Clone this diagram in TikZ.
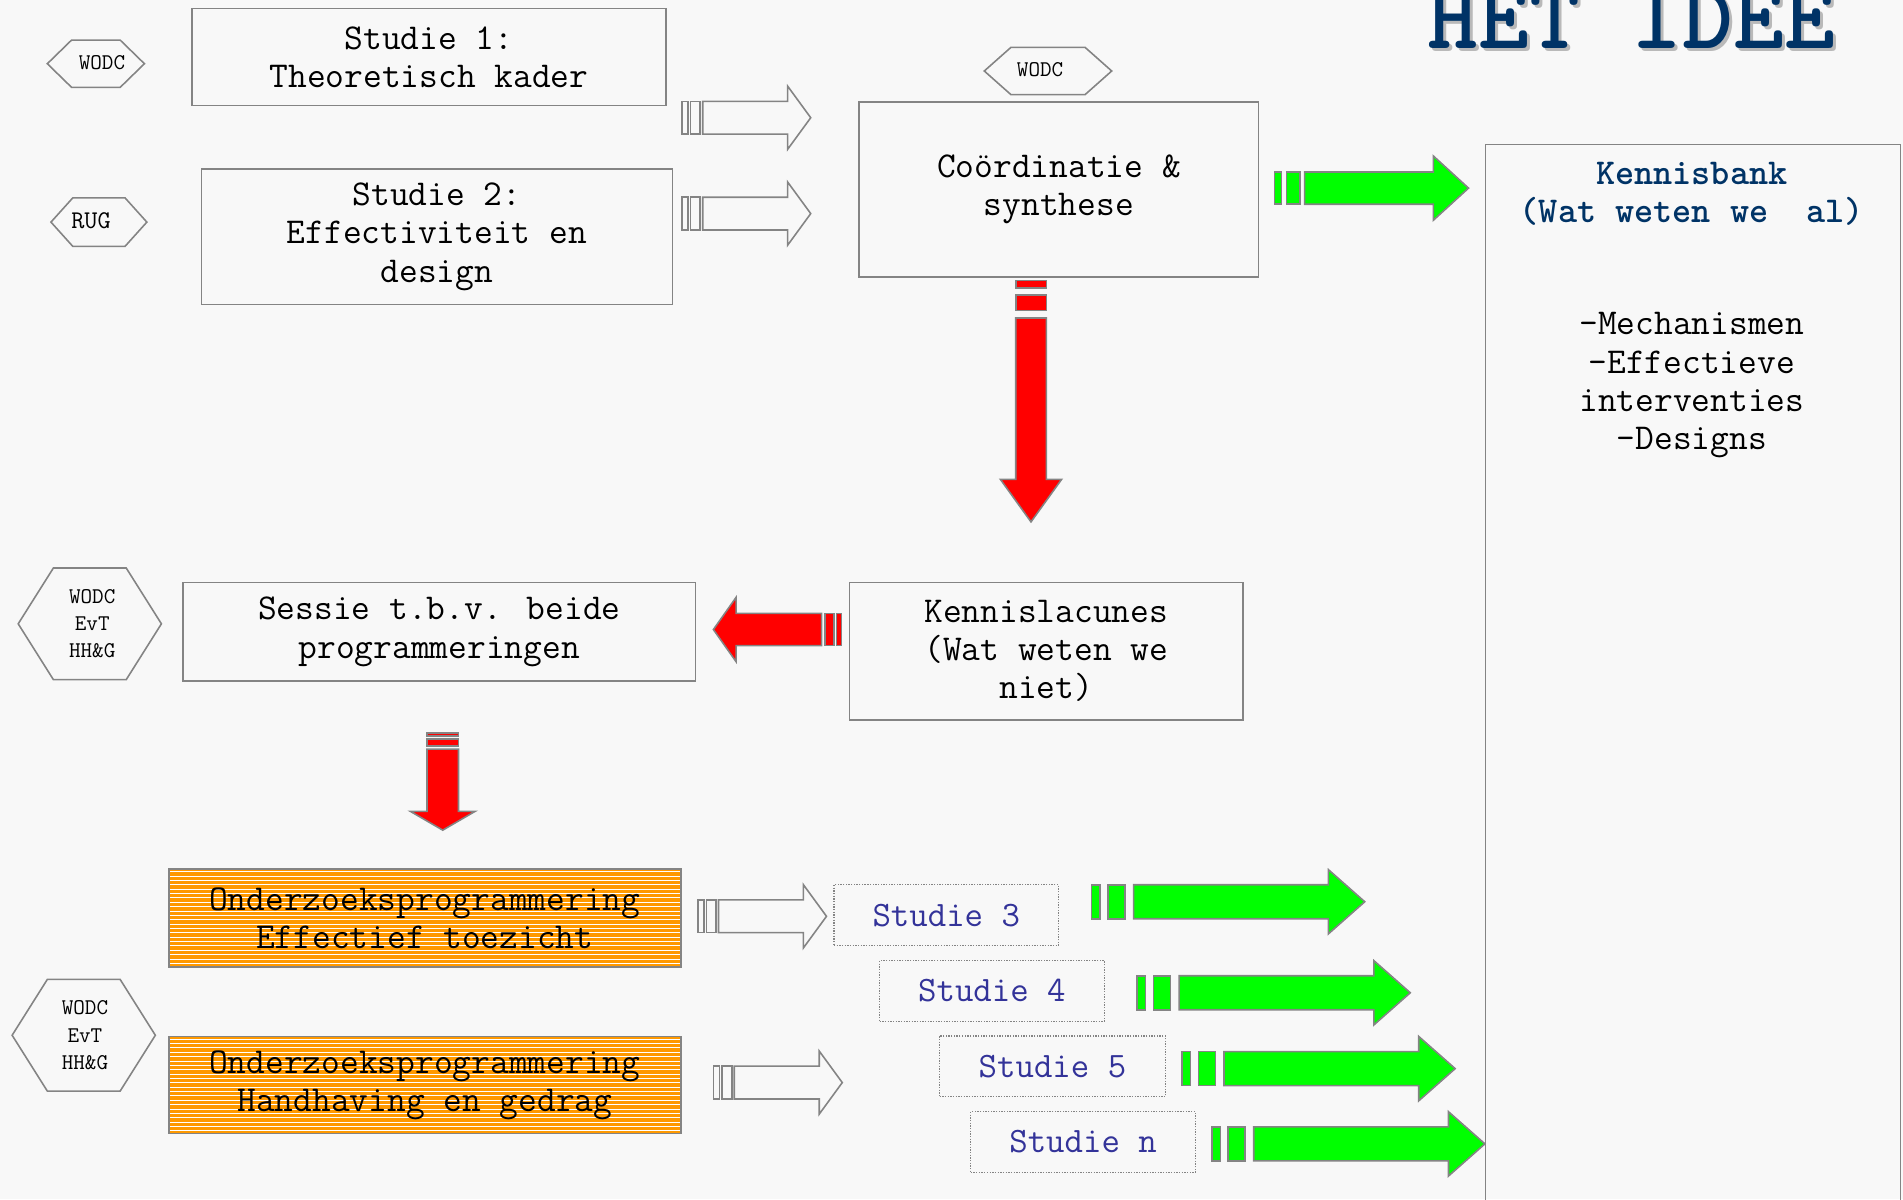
\documentclass[tikz,border=0pt]{standalone}
\definecolor{bgc}{RGB}{248,248,248}
\definecolor{bord}{RGB}{132,132,132}
\definecolor{navy}{RGB}{0,51,102}
\definecolor{studblue}{RGB}{51,51,153}
\definecolor{orng}{RGB}{255,153,0}
\definecolor{grn}{RGB}{0,255,0}
\definecolor{rd}{RGB}{255,0,0}
\definecolor{shadowc}{RGB}{185,185,185}
\newcommand\dgmfont{\ttfamily\fontsize{30}{31.5}\selectfont}
\newcommand\dgbfont{\ttfamily\bfseries\fontsize{30}{31.5}\selectfont}
\newcommand\dgtfont{\ttfamily\bfseries\fontsize{80}{80}\selectfont}
\newcommand\dghfont{\ttfamily\fontsize{18.5}{22.5}\selectfont}
\newcommand\dgsfont{\ttfamily\fontsize{29.5}{31.5}\selectfont}

\pgfkeys{/sa/.is family}
\pgfkeys{/sa/.cd, a/.initial=5, b/.initial=2, c/.initial=8, d/.initial=2,
  L/.initial=106, H/.initial=19, w/.initial=13.5, W/.initial=26}

% striped block arrow: #1 keys, #2 style, #3 tail point, #4 rotation
\newcommand\sarrow[4]{%
  \begingroup
  \pgfkeys{/sa/.cd,#1}%
  \pgfmathsetmacro\sA{\pgfkeysvalueof{/sa/a}}%
  \pgfmathsetmacro\sB{\sA+\pgfkeysvalueof{/sa/b}}%
  \pgfmathsetmacro\sC{\sB+\pgfkeysvalueof{/sa/c}}%
  \pgfmathsetmacro\sD{\sC+\pgfkeysvalueof{/sa/d}}%
  \pgfmathsetmacro\sL{\pgfkeysvalueof{/sa/L}}%
  \pgfmathsetmacro\sH{\sL-\pgfkeysvalueof{/sa/H}}%
  \pgfmathsetmacro\sw{\pgfkeysvalueof{/sa/w}}%
  \pgfmathsetmacro\sW{\pgfkeysvalueof{/sa/W}}%
  \begin{scope}[shift={#3},rotate=#4]
    \draw[#2] (0,-\sw) rectangle (\sA,\sw);
    \draw[#2] (\sB,-\sw) rectangle (\sC,\sw);
    \draw[#2] (\sD,-\sw) -- (\sH,-\sw) -- (\sH,-\sW) -- (\sL,0) -- (\sH,\sW) -- (\sH,\sw) -- (\sD,\sw) -- cycle;
  \end{scope}
  \endgroup}

% hexagon outline: cx, cy, half width, half height, point depth
\newcommand\hexpath[5]{%
  \draw[hexline] (#1-#3,#2) -- (#1-#3+#5,#2-#4) -- (#1+#3-#5,#2-#4) -- (#1+#3,#2)
    -- (#1+#3-#5,#2+#4) -- (#1-#3+#5,#2+#4) -- cycle;}

\begin{document}
\begin{tikzpicture}[x=1pt,y=-1pt,
  every node/.style={inner sep=0pt, outer sep=0pt},
  box/.style={draw=bord, line width=1.4pt, rectangle, font=\dgmfont, align=center},
  orbox/.style={box, fill=orng, path picture={
      \foreach \k in {0,...,22}{
        \draw[white, line width=0.75pt]
          ([yshift=-2.2pt-\k*3.6pt]path picture bounding box.north west) --
          ([yshift=-2.2pt-\k*3.6pt]path picture bounding box.north east);}}},
  dotbox/.style={draw=bord, line width=1.1pt, dash pattern=on 1.1pt off 1.1pt,
    rectangle, font=\dgsfont, text=studblue},
  hexline/.style={draw=bord, line width=1.3pt},
  hexlab/.style={font=\dghfont, align=center},
  hollow/.style={draw=bord, line width=1.3pt, fill=bgc},
  greenar/.style={draw=bord, line width=1.3pt, fill=grn},
  redar/.style={draw=bord, line width=1.3pt, fill=rd},
]
\useasboundingbox (0,0) rectangle (1568,988);
\fill[bgc] (0,0) rectangle (1568,988);

% title
\node[anchor=base west, font=\dgtfont, text=shadowc] (titlesh) at (1178.5,42.5) {HET IDEE};
\node[anchor=base west, font=\dgtfont, text=navy] (title) at (1176,40) {HET IDEE};

% top boxes
\node[box, minimum width=391pt, minimum height=80pt] (s1) at (353.5,47) {Studie 1:\\Theoretisch kader};
\node[box, minimum width=388pt, minimum height=112pt] (s2) at (360,195) {Studie 2:\\Effectiviteit en\\design};
\node[box, minimum width=329pt, minimum height=144pt] (co) at (872.5,156) {Coördinatie \&\\synthese};

% Kennisbank
\node[box, anchor=north west, minimum width=342pt, minimum height=900pt] (kb) at (1224,119) {};
\node[font=\dgbfont, text=navy, align=center] (kbt) at (1394,159.5) {Kennisbank\\(Wat weten we~~al)};
\node[font=\dgmfont, align=center] (kbl) at (1394,317.5) {-Mechanismen\\-Effectieve\\interventies\\-Designs};

% middle boxes
\node[box, minimum width=422pt, minimum height=81pt] (se) at (362,520.5) {Sessie t.b.v. beide\\programmeringen};
\node[box, minimum width=324pt, minimum height=113pt] (kl) at (862,536.5) {Kennislacunes\\(Wat weten we\\niet)};

% programme boxes
\node[orbox, minimum width=422pt, minimum height=81pt] (op1) at (350,756.5) {Onderzoeksprogrammering\\Effectief toezicht};
\node[orbox, minimum width=422pt, minimum height=80pt] (op2) at (350,894) {Onderzoeksprogrammering\\Handhaving en gedrag};

% studies
\node[dotbox, minimum width=185pt, minimum height=50pt] (st3) at (779.7,754) {Studie 3};
\node[dotbox, minimum width=185pt, minimum height=50pt] (st4) at (817.3,816.5) {Studie 4};
\node[dotbox, minimum width=186pt, minimum height=50pt] (st5) at (867.2,878.5) {Studie 5};
\node[dotbox, minimum width=185pt, minimum height=50pt] (stn) at (892.4,941) {Studie n};

% hexagons
\hexpath{79}{52.5}{40}{19.5}{20}
\node[hexlab] (hx1) at (84,52) {WODC};
\hexpath{81.5}{183}{39.5}{20}{18}
\node[hexlab, font=\ttfamily\fontsize{21}{22}\selectfont] (hx2) at (75,182) {RUG};
\hexpath{74}{514}{59}{46}{29}
\node[hexlab] (hx3) at (76,514) {WODC\\EvT\\HH\&G};
\hexpath{69}{853}{59}{46}{29}
\node[hexlab] (hx4) at (70,853) {WODC\\EvT\\HH\&G};
\hexpath{863.5}{58.5}{52.5}{19.5}{22}
\node[hexlab] (hx5) at (857,57) {WODC};

% hollow arrows
\sarrow{a=5,b=2,c=8,d=2,L=106,H=19,w=13.5,W=26}{hollow}{(562,97)}{0}
\sarrow{a=5,b=2,c=8,d=2,L=106,H=19,w=13.5,W=26}{hollow}{(562,176)}{0}
\sarrow{a=5,b=2,c=8,d=2,L=106,H=19,w=13.5,W=26}{hollow}{(575,755)}{0}
\sarrow{a=5,b=2,c=8,d=2,L=106,H=19,w=13.5,W=26}{hollow}{(588,892)}{0}

% green arrows
\sarrow{a=6,b=4,c=11,d=4,L=160,H=29,w=13.3,W=26.5}{greenar}{(1050,155)}{0}
\sarrow{a=7,b=6.5,c=14,d=7,L=225,H=30,w=14,W=26.5}{greenar}{(899.5,743)}{0}
\sarrow{a=7,b=6.5,c=14,d=7,L=225,H=30,w=14,W=26.5}{greenar}{(937,818)}{0}
\sarrow{a=7,b=6.5,c=14,d=7,L=225,H=30,w=14,W=26.5}{greenar}{(974,880.5)}{0}
\sarrow{a=7,b=6.5,c=14,d=7,L=225,H=30,w=14,W=26.5}{greenar}{(998.5,942.5)}{0}

% red arrows
\sarrow{a=6.5,b=5.5,c=13,d=6,L=199,H=35,w=12.6,W=25.2}{redar}{(849.5,231)}{-90}
\sarrow{a=4.1,b=2.2,c=7.4,d=2.8,L=105.7,H=18.7,w=13.3,W=26.5}{redar}{(693.5,518.7)}{180}
\sarrow{a=2.5,b=2.5,c=5.5,d=2.7,L=80,H=15.5,w=13,W=26.7}{redar}{(364.8,604)}{-90}
\end{tikzpicture}
\end{document}
